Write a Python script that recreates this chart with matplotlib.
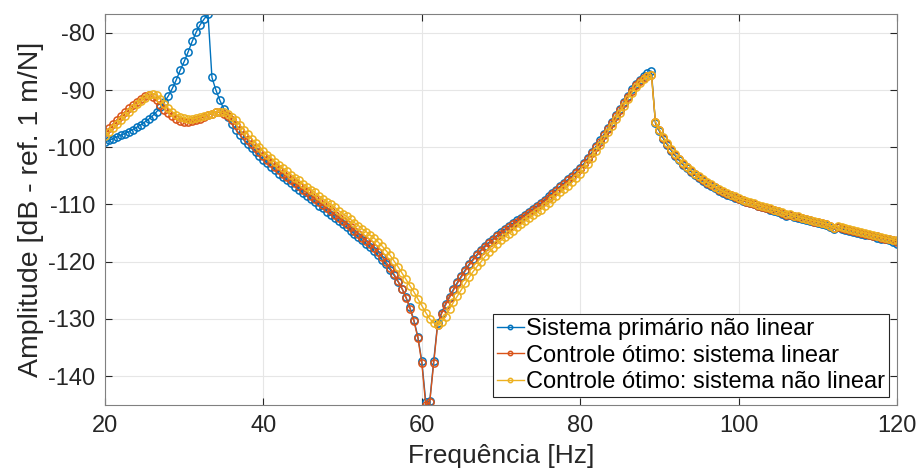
import matplotlib
matplotlib.use("Agg")
import matplotlib.pyplot as plt
import numpy as np

plt.rcParams['font.family'] = ['Liberation Sans', 'DejaVu Sans']
plt.rcParams['axes.unicode_minus'] = False

# ==============================================================
# Data (0.5 Hz steps, 20..120 Hz)
# ==============================================================
freq = np.arange(20.0, 120.25, 0.5)

primario_nl = [
    -99.1, -98.8, -98.5, -98.2, -97.9, -97.6, -97.3, -96.9, -96.5, -96.1, -95.6, -95.1, -94.5, -93.8, -93.0, -92.1, -91.0, -89.7, -88.2, -86.5,
    -85.0, -83.3, -81.5, -79.9, -78.6, -77.6, -76.7, -87.8, -90.0, -91.8, -93.3, -94.7, -95.9, -96.9, -97.8, -98.7, -99.5, -100.2, -100.9, -101.6,
    -102.2, -102.8, -103.4, -104.0, -104.6, -105.2, -105.8, -106.3, -106.9, -107.4, -108.0, -108.5, -109.1, -109.6, -110.2, -110.7, -111.3, -111.8, -112.4, -112.9,
    -113.5, -114.0, -114.6, -115.1, -115.7, -116.3, -116.9, -117.5, -118.2, -118.9, -119.7, -120.5, -121.4, -122.4, -123.5, -124.7, -126.2, -128.0, -130.2, -133.1,
    -137.4, -144.5, -144.4, -137.4, -130.8, -128.9, -127.4, -126.1, -124.8, -123.6, -122.5, -121.4, -120.4, -119.5, -118.7, -117.9, -117.2, -116.6, -116.0, -115.4,
    -114.9, -114.3, -113.8, -113.3, -112.8, -112.3, -111.8, -111.3, -110.8, -110.3, -109.8, -109.2, -108.6, -108.0, -107.4, -106.8, -106.2, -105.6, -105.0, -104.3,
    -103.6, -102.8, -101.8, -100.8, -99.8, -98.8, -97.7, -96.6, -95.5, -94.4, -93.3, -92.1, -91.0, -89.9, -89.0, -88.2, -87.6, -87.1, -86.7, -95.8,
    -97.2, -98.5, -99.6, -100.6, -101.5, -102.3, -103.1, -103.7, -104.3, -104.9, -105.4, -105.9, -106.4, -106.8, -107.2, -107.6, -108.0, -108.3, -108.6, -108.9,
    -109.1, -109.4, -109.6, -109.8, -110.0, -110.3, -110.5, -110.7, -110.9, -111.1, -111.3, -111.6, -112.0, -111.9, -112.2, -112.3, -112.6, -112.7, -112.9, -113.1,
    -113.3, -113.5, -113.6, -113.9, -114.3, -114.0, -114.3, -114.5, -114.6, -114.8, -115.0, -115.1, -115.3, -115.4, -115.6, -115.8, -116.0, -116.1, -116.3, -116.5,
    -116.9,
]

controle_lin = [
    -97.3, -96.7, -95.9, -95.2, -94.5, -93.8, -93.2, -92.6, -92.0, -91.5, -91.1, -90.9, -91.2, -91.8, -92.6, -93.4, -94.0, -94.6, -95.1, -95.4,
    -95.5, -95.5, -95.4, -95.2, -95.0, -94.7, -94.4, -94.1, -93.9, -93.9, -94.1, -94.6, -95.3, -96.1, -97.0, -97.9, -98.7, -99.5, -100.2, -100.9,
    -101.6, -102.2, -102.8, -103.4, -104.0, -104.6, -105.2, -105.7, -106.3, -106.8, -107.4, -107.9, -108.5, -109.0, -109.6, -110.1, -110.7, -111.2, -111.8, -112.3,
    -112.9, -113.4, -114.0, -114.6, -115.2, -115.8, -116.4, -117.0, -117.7, -118.4, -119.2, -120.1, -121.1, -122.2, -123.4, -124.7, -126.3, -128.2, -130.4, -133.3,
    -137.7, -145.1, -144.6, -137.8, -131.0, -129.1, -127.6, -126.3, -125.0, -123.8, -122.7, -121.6, -120.6, -119.7, -118.9, -118.1, -117.4, -116.8, -116.2, -115.6,
    -115.1, -114.5, -114.0, -113.5, -113.0, -112.5, -112.0, -111.5, -111.0, -110.5, -110.0, -109.4, -108.8, -108.2, -107.6, -107.0, -106.4, -105.8, -105.2, -104.5,
    -103.8, -103.0, -102.0, -101.0, -100.0, -99.0, -97.9, -96.8, -95.7, -94.6, -93.5, -92.3, -91.2, -90.1, -89.2, -88.5, -87.9, -87.5, -87.3, -95.6,
    -97.0, -98.3, -99.4, -100.4, -101.3, -102.1, -102.9, -103.5, -104.1, -104.7, -105.2, -105.7, -106.2, -106.6, -107.0, -107.4, -107.8, -108.1, -108.4, -108.7,
    -109.0, -109.3, -109.5, -109.7, -109.9, -110.2, -110.4, -110.6, -110.8, -111.0, -111.2, -111.5, -111.8, -111.8, -112.1, -112.2, -112.4, -112.6, -112.8, -113.0,
    -113.1, -113.3, -113.5, -113.8, -114.2, -113.9, -114.1, -114.3, -114.4, -114.6, -114.8, -115.0, -115.1, -115.3, -115.5, -115.6, -115.8, -116.0, -116.1, -116.3,
    -116.5,
]

controle_nl = [
    -98.0, -97.4, -96.7, -96.0, -95.3, -94.6, -93.9, -93.2, -92.5, -91.9, -91.3, -90.9, -90.6, -90.8, -91.5, -92.4, -93.2, -93.8, -94.3, -94.7,
    -94.9, -95.0, -95.0, -94.9, -94.7, -94.5, -94.3, -94.1, -93.9, -93.8, -93.9, -94.2, -94.7, -95.3, -96.1, -96.9, -97.7, -98.5, -99.3, -100.0,
    -100.7, -101.3, -101.9, -102.5, -103.1, -103.7, -104.2, -104.8, -105.3, -105.8, -106.4, -106.9, -107.4, -107.9, -108.5, -109.0, -109.5, -110.0, -110.5, -111.1,
    -111.6, -112.1, -112.6, -113.2, -113.7, -114.3, -114.8, -115.4, -115.9, -116.6, -117.3, -118.1, -118.9, -119.9, -120.9, -122.0, -123.1, -124.2, -125.3, -126.5,
    -127.7, -128.9, -130.0, -130.7, -131.1, -130.6, -129.6, -128.3, -127.1, -126.0, -124.9, -123.8, -122.7, -121.7, -120.8, -120.0, -119.1, -118.3, -117.6, -116.9,
    -116.3, -115.7, -115.1, -114.6, -114.0, -113.5, -112.9, -112.4, -111.9, -111.4, -110.9, -110.3, -109.7, -109.1, -108.5, -107.9, -107.3, -106.7, -106.1, -105.4,
    -104.6, -103.8, -102.9, -101.8, -100.7, -99.6, -98.5, -97.3, -96.2, -95.1, -94.0, -92.8, -91.6, -90.5, -89.5, -88.7, -88.1, -87.6, -87.4, -95.5,
    -96.9, -98.2, -99.3, -100.3, -101.2, -102.0, -102.8, -103.4, -104.0, -104.6, -105.1, -105.6, -106.1, -106.5, -106.9, -107.3, -107.7, -108.0, -108.3, -108.6,
    -108.9, -109.2, -109.4, -109.6, -109.8, -110.1, -110.3, -110.5, -110.7, -110.9, -111.1, -111.4, -111.7, -111.7, -112.0, -112.1, -112.3, -112.5, -112.7, -112.9,
    -113.0, -113.2, -113.4, -113.7, -114.1, -113.8, -114.0, -114.2, -114.3, -114.5, -114.7, -114.9, -115.0, -115.2, -115.4, -115.5, -115.7, -115.9, -116.0, -116.2,
    -116.3,
]

labels = [
    "Sistema primário não linear",
    "Controle ótimo: sistema linear",
    "Controle ótimo: sistema não linear",
]
colors = ["#0072BD", "#D95319", "#EDB120"]

x_ticks = [20, 40, 60, 80, 100, 120]
y_ticks = [-140, -130, -120, -110, -100, -90, -80]

# ==============================================================
# Figure
# ==============================================================
fig = plt.figure(figsize=(9.19, 4.75), dpi=100)
ax = fig.add_axes([0.1143, 0.147, 0.8617, 0.8235])

for ys, lab, col in zip([primario_nl, controle_lin, controle_nl], labels, colors):
    ax.plot(freq, ys, '-o', color=col, lw=1.0, markersize=5.2,
            markerfacecolor='none', markeredgewidth=1.1, label=lab)

all_y = np.concatenate([primario_nl, controle_lin, controle_nl])
ax.set_xlim(20, 120)
ax.set_ylim(all_y.min(), all_y.max())
ax.set_xticks(x_ticks)
ax.set_yticks(y_ticks)

ax.grid(True, color='#e6e6e6', lw=0.8)
ax.set_axisbelow(True)
ax.tick_params(direction='in', length=5, width=0.8, top=True, right=True,
               labelsize=17, colors='#262626', pad=7)
for sp in ax.spines.values():
    sp.set_color('#808080')
    sp.set_linewidth(0.8)

ax.set_xlabel("Frequência [Hz]", fontsize=19, color='#262626', labelpad=5)
ax.set_ylabel("Amplitude [dB - ref. 1 m/N]", fontsize=20.5, color='#262626', labelpad=3)

leg = ax.legend(loc='lower right', fontsize=17, fancybox=False, framealpha=1,
                edgecolor='#262626', handlelength=1.15, handletextpad=0.1,
                borderpad=0.15, labelspacing=0.2, borderaxespad=0.35, markerscale=0.6)
leg.get_frame().set_linewidth(0.8)

fig.savefig("out.png", dpi=100)
